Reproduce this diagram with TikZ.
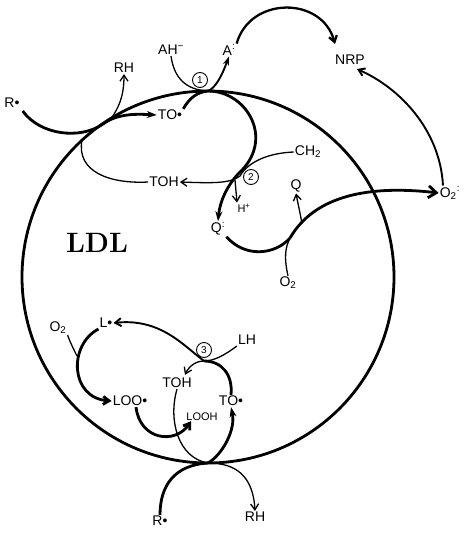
\documentclass[tikz,border=0pt]{standalone}
\usepackage{fontspec}
\newfontfamily\lab{Liberation Sans}
\usetikzlibrary{arrows.meta,calc}
\newcommand{\rdt}{\textsuperscript{\kern0.3pt:}}
\tikzset{
  lab/.style={font=\lab\fontsize{14}{16}\selectfont, inner sep=1pt},
  slab/.style={font=\lab\fontsize{11}{13}\selectfont, inner sep=1pt},
  num/.style={draw, circle, line width=0.9pt, inner sep=0pt, minimum size=15pt, font=\lab\fontsize{10}{11}\selectfont},
  thk/.style={line width=2.8pt},
  med/.style={line width=1.9pt},
  thn/.style={line width=1.3pt},
  ta/.style={-{Stealth[length=10pt,width=7pt]}},
  tb/.style={-{Straight Barb[length=6pt,width=8pt]}},
  tc/.style={-{Straight Barb[length=8pt,width=12pt]}},
}
\begin{document}
\begin{tikzpicture}[x=1pt,y=-1pt]
\useasboundingbox (0,0) rectangle (471,533);
% main circle
\draw[thk] (208,277) circle[radius=186pt];
% labels
\node[lab] (R1) at (12,103) {R•};
\node[lab] (RH1) at (124,68) {RH};
\node[lab] (TO1) at (170,115) {TO•};
\node[lab] (AH) at (171,50) {AH\textsuperscript{−}};
\node[lab] (A) at (229,50) {A\rdt};
\node[lab] (NRP) at (350,60) {NRP};
\node[lab] (O2m) at (450,193) {O\textsubscript{2}\rdt};
\node[lab] (TOH1) at (164,182) {TOH};
\node[lab] (CH2) at (308,152) {CH\textsubscript{2}};
\node[slab] (H) at (244,208) {H\textsuperscript{+}};
\node[lab] (Q1) at (218,229) {Q\rdt};
\node[lab] (Q) at (296,186) {Q};
\node[lab] (O2) at (288,283) {O\textsubscript{2}};
\node[font=\fontsize{28}{30}\selectfont\bfseries] (ldl) at (97,243) {LDL};
\node[lab] (O2b) at (58,328) {O\textsubscript{2}};
\node[lab] (L) at (106,323) {L•};
\node[lab] (LH) at (247,340) {LH};
\node[lab] (TOH2) at (177,383) {TOH};
\node[lab] (TO2) at (231,401) {TO•};
\node[lab] (LOO) at (130,401) {LOO•};
\node[slab] (LOOH) at (202,417) {LOOH};
\node[lab] (R2) at (160,521) {R•};
\node[lab] (RH2) at (255,517) {RH};
\node[num] (c1) at (200,80) {1};
\node[num] (c2) at (251,177) {2};
\node[num] (c3) at (204,350) {3};
% junctions
\coordinate (jR) at (103,124);
\coordinate (jR2) at (111,119);
\coordinate (jT) at (82,140);
\coordinate (top) at (208,91);
\coordinate (jQ) at (290,238);
\coordinate (jQ2) at (302,224);
\coordinate (j2) at (240,176);
\coordinate (jH) at (235,180);
\coordinate (j3) at (204,361);
\coordinate (bot) at (208,463);
\coordinate (jL) at (77,356);
% upper left
\draw[thk,ta] ($(R1.south east)+(2,2)$) .. controls (40,135) and (80,140) .. (jR) .. controls (118,113) and (138,114) .. (TO1.west);
\draw[thn,tb] (jR2) .. controls (118,108) and (124,98) .. (RH1.south);
\draw[thn] (jT) .. controls (76,172) and (110,184) .. (TOH1.west);
% loop 1
\draw[thk,ta] (TO1.north east) .. controls (190,97) and (198,92) .. (top) .. controls (247,91) and (276,140) .. (238,174) .. controls (228,185) and (220,200) .. (Q1.north);
\draw[thn] (AH.south) .. controls (174,78) and (186,90) .. (top);
\draw[med,-{Stealth[length=9pt,width=6pt]}] (top) .. controls (215,88) and (221,78) .. (A.south);
\draw[line width=2.3pt,tb] (A.north east) .. controls (250,-4) and (322,-4) .. ($(NRP.north west)+(1,-10)$);
\draw[med,tb] ($(O2m.north)+(-7,0)$) .. controls (440,130) and (400,88) .. ($(NRP.south)+(7,3)$);
% Q cycle
\draw[thk] (Q1.south east) .. controls (245,258) and (275,255) .. (jQ);
\draw[thk,tc] (jQ) .. controls (315,195) and (370,185) .. (O2m.west);
\draw[thn] (O2.north) .. controls (284,258) and (285,248) .. (jQ);
\draw[thn,tb] (jQ2) .. controls (300,212) and (298,204) .. (Q.south);
% loop 2
\draw[thn,tb] (CH2.west) .. controls (268,153) and (248,162) .. (j2) .. controls (230,184) and (210,183) .. (TOH1.east);
\draw[thn,tb] (jH) -- ($(H.north)+(-7,0)$);
% loop 3
\draw[thn,tb] (LH.south west) .. controls (225,355) and (214,361) .. (j3) .. controls (196,361) and (189,366) .. ($(TOH2.north)+(8,-2)$);
\draw[thk] (TO2.north) .. controls (233,375) and (222,361) .. (j3);
\draw[med,tb] (j3) .. controls (183,345) and (160,318) .. (L.east);
\draw[thn] (TOH2.south) .. controls (168,420) and (178,458) .. (bot);
\draw[thk,ta] (bot) .. controls (222,455) and (236,430) .. (TO2.south);
\draw[thk,tb] (L.south west) .. controls (68,345) and (70,398) .. (LOO.west);
\draw[thn] (O2b.south east) .. controls (70,342) and (74,350) .. (jL);
\draw[thk,tb] ($(LOO.south)+(6,0)$) .. controls (140,440) and (175,445) .. ($(LOOH.south west)+(6,-1)$);
\draw[thk] (R2.north) .. controls (160,485) and (175,465) .. (bot);
\draw[thn,tb] (bot) .. controls (235,463) and (253,475) .. (RH2.north);
\end{tikzpicture}
\end{document}
